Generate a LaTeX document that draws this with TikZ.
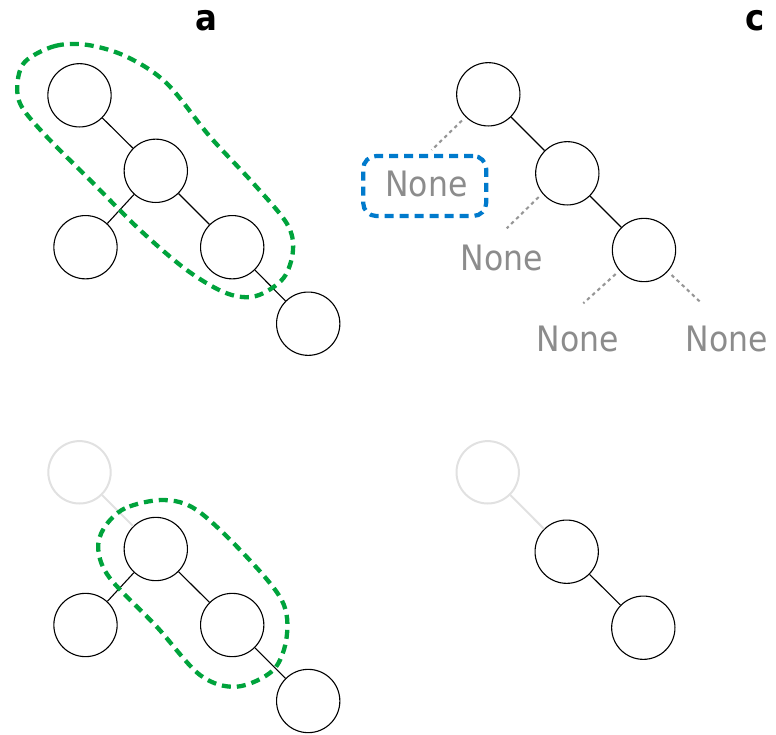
\documentclass[tikz,border=0pt]{standalone}
\usepackage{fontspec}
\newfontfamily\lblfont[FakeStretch=0.9]{DejaVu Sans}
\definecolor{grn}{RGB}{0,163,60}
\definecolor{blu}{RGB}{0,122,204}
\definecolor{txtgray}{RGB}{140,140,140}
\definecolor{dotgray}{RGB}{150,150,150}
\definecolor{faded}{RGB}{225,225,225}
\begin{document}
\begin{tikzpicture}[x=1pt,y=-1pt,
  tnode/.style={circle,draw=black,line width=1.1pt,minimum size=63.3pt,inner sep=0pt},
  ghost/.style={tnode,draw=faded,line width=2pt,minimum size=62.4pt},
  edge/.style={line width=1.1pt},
  ghostedge/.style={draw=faded,line width=2pt},
  nonetext/.style={font=\lblfont\fontsize{35}{42}\selectfont,text=txtgray,inner sep=0pt},
  nulledge/.style={draw=dotgray,line width=2.1pt,dash pattern=on 3.5pt off 3.5pt,shorten <=5pt},
  greenloop/.style={draw=grn,line width=4.3pt,dash pattern=on 9pt off 6pt},
  bluebox/.style={draw=blu,line width=4.2pt,dash pattern=on 9pt off 6pt,rounded corners=13pt,inner sep=0pt},
  panel/.style={font=\lblfont\bfseries\fontsize{36}{43}\selectfont,anchor=base,inner sep=0pt}]
\useasboundingbox (0,0) rectangle (776,734);

% panel labels
\node[panel] (la) at (206,30.5) {a};
\node[panel] (lc) at (755,30.7) {c};

% top-left tree
\node[tnode] (A1) at (79.5,95.3) {};
\node[tnode] (A2) at (155.8,170.8) {};
\node[tnode] (A3) at (85.5,247.2) {};
\node[tnode] (A4) at (232.2,247.2) {};
\node[tnode] (A5) at (308.2,323.7) {};
\draw[edge] (A1) -- (A2);
\draw[edge] (A2) -- (A3);
\draw[edge] (A2) -- (A4);
\draw[edge] (A4) -- (A5);
\draw[greenloop] plot[smooth cycle,tension=0.55] coordinates {
  (25,61.7) (55,46) (88,45) (126.7,56.7) (166.7,83.3) (210,136.7)
  (253.3,183.3) (286.7,223.3) (293,250) (283.3,278.3) (256,296)
  (226.7,293.3) (186.7,270) (140,230) (93.3,183.3) (46.7,136.7)
  (21.7,106.7) (17.3,85)};

% bottom-left tree
\node[ghost] (B1) at (79.5,472.3) {};
\node[tnode] (B2) at (155.8,549) {};
\node[tnode] (B3) at (85.5,625) {};
\node[tnode] (B4) at (232.2,625) {};
\node[tnode] (B5) at (308.2,701) {};
\draw[ghostedge] (B1) -- (B2);
\draw[edge] (B2) -- (B3);
\draw[edge] (B2) -- (B4);
\draw[edge] (B4) -- (B5);
\draw[greenloop] plot[smooth cycle,tension=0.55] coordinates {
  (163.3,500) (125,508.3) (104,528) (98.3,550) (110,578.3)
  (156.7,626.7) (200,675) (236.7,686.7) (273.3,670)
  (286.7,636.7) (281.7,600) (243.3,553.3) (196.7,510)};

% top-right tree
\node[tnode] (T1) at (488.3,94.3) {};
\node[tnode] (T2) at (567.3,173.3) {};
\node[tnode] (T3) at (644,250) {};
\draw[edge] (T1) -- (T2);
\draw[edge] (T2) -- (T3);

\node[nonetext] (N1) at (426.5,184) {None};
\node[bluebox,minimum width=123pt,minimum height=60pt] (BX) at (424.7,186) {};
\node[nonetext] (N2) at (502,257.5) {None};
\node[nonetext] (N3) at (578,339) {None};
\node[nonetext] (N4) at (727,339) {None};

\coordinate (d1) at (431.7,150);
\coordinate (d2) at (506.7,228.3);
\coordinate (d3) at (583.3,303.3);
\coordinate (d4) at (701.7,303.3);
\draw[nulledge] (T1.225) -- (d1);
\draw[nulledge] (T2.219) -- (d2);
\draw[nulledge] (T3.220) -- (d3);
\draw[nulledge] (T3.318) -- (d4);

% bottom-right tree
\node[ghost] (C1) at (487.7,472.3) {};
\node[tnode] (C2) at (566.7,551.7) {};
\node[tnode] (C3) at (643.3,627.7) {};
\draw[ghostedge] (C1) -- (C2);
\draw[edge] (C2) -- (C3);
\end{tikzpicture}
\end{document}
